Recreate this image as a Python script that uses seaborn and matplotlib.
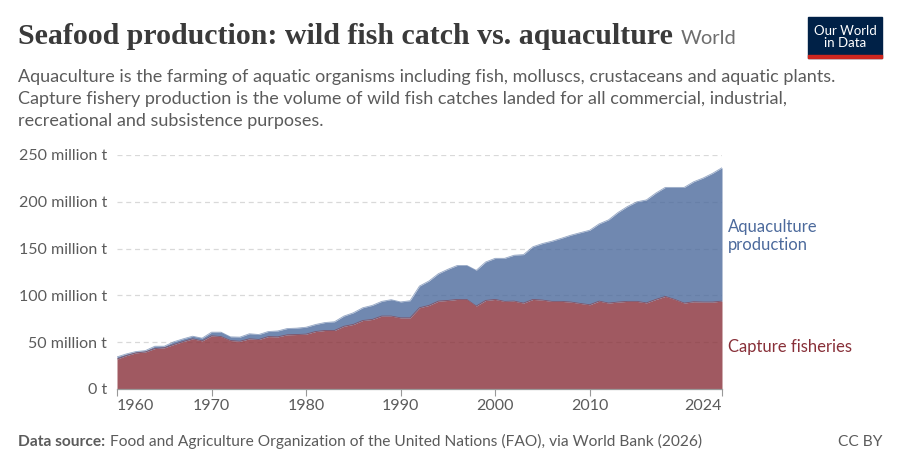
import numpy as np
import pandas as pd
import matplotlib.pyplot as plt
import seaborn as sns
from matplotlib.patches import Rectangle

# 数据：单位 百万吨
years = list(range(1960, 2025))
capture = [32.0, 35.7, 38.6, 39.6, 43.2, 44.0, 47.5, 50.7, 53.6, 51.4,
           56.8, 56.0, 51.8, 51.0, 53.6, 52.9, 56.0, 55.7, 57.9, 58.2,
           58.6, 61.4, 62.5, 62.5, 67.0, 69.0, 73.2, 74.3, 77.9, 77.9,
           76.0, 76.0, 86.8, 89.3, 93.9, 94.6, 95.7, 95.7, 88.6, 94.6,
           95.7, 93.6, 93.9, 91.8, 95.7, 95.0, 93.6, 93.6, 92.9, 91.4,
           90.0, 93.9, 91.8, 92.9, 93.6, 93.6, 92.0, 95.7, 98.9, 95.7,
           91.8, 93.2, 92.9, 92.9, 93.9]
total = [34.3, 37.5, 40.0, 41.0, 45.7, 45.7, 50.4, 53.6, 56.4, 54.3,
         60.7, 60.7, 55.7, 55.4, 59.0, 58.2, 61.4, 62.0, 64.6, 65.0,
         66.0, 68.9, 71.0, 71.8, 77.9, 81.4, 86.8, 89.3, 93.6, 95.4,
         93.0, 94.3, 110.0, 115.4, 123.2, 127.9, 132.0, 132.0, 126.8, 135.7,
         139.6, 139.6, 142.9, 143.6, 152.0, 155.4, 157.9, 161.0, 164.3, 167.0,
         169.6, 176.4, 180.7, 188.6, 195.0, 200.0, 202.0, 209.3, 215.4, 215.4,
         215.4, 221.4, 225.4, 230.4, 236.4]
aquaculture = [t - c for t, c in zip(total, capture)]

y_ticks = [0, 50, 100, 150, 200, 250]
y_labels = ['0 t', '50 million t', '100 million t', '150 million t',
            '200 million t', '250 million t']
x_ticks = [1960, 1970, 1980, 1990, 2000, 2010, 2024]

df = pd.DataFrame({'year': years, 'capture': capture,
                   'aquaculture': aquaculture, 'total': total})

sns.set_theme(style='white')
plt.rcParams['font.family'] = ['Lato', 'DejaVu Sans']

blue = '#4C6A9C'
red = '#883039'
grey = '#5b5b5b'

fig = plt.figure(figsize=(9, 4.7), dpi=100)
ax = fig.add_axes([117/900, 1-389/470, (722-117)/900, (389-155)/470])

# 网格线
for v in y_ticks[1:]:
    ax.axhline(v, color='#d9d9d9', lw=0.9, ls=(0, (4, 3)), zorder=0)

ax.fill_between(df['year'], 0, df['capture'], color=red, alpha=0.8, lw=0, zorder=2)
ax.fill_between(df['year'], df['capture'], df['total'], color=blue, alpha=0.8, lw=0, zorder=2)
sns.lineplot(data=df, x='year', y='total', ax=ax, color=blue, lw=0.6, alpha=0.6, zorder=3)
sns.lineplot(data=df, x='year', y='capture', ax=ax, color=red, lw=0.6, alpha=0.6, zorder=3)

ax.set_xlim(1960, 2024)
ax.set_ylim(0, 250)
ax.set_xlabel('')
ax.set_ylabel('')
for s in ['top', 'right', 'left']:
    ax.spines[s].set_visible(False)
ax.spines['bottom'].set_color('#999999')
ax.spines['bottom'].set_linewidth(0.9)

ax.set_yticks(y_ticks)
ax.set_yticklabels(y_labels, fontsize=11.5, color=grey)
ax.tick_params(axis='y', length=0, pad=7)

ax.set_xticks(x_ticks)
ax.set_xticklabels([str(x) for x in x_ticks], fontsize=11.5, color=grey)
ax.tick_params(axis='x', length=5, width=0.8, color='#999999', pad=2, direction='out', bottom=True)
xl = ax.get_xticklabels()
xl[0].set_horizontalalignment('left')
xl[-1].set_horizontalalignment('right')

# 右侧标签
fig.text(728/900, 1-232/470, 'Aquaculture', color=blue, fontsize=12, va='baseline')
fig.text(728/900, 1-250/470, 'production', color=blue, fontsize=12, va='baseline')
fig.text(728/900, 1-352/470, 'Capture fisheries', color=red, fontsize=12, va='baseline')

# 标题
t = fig.text(18/900, 1-44/470, 'Seafood production: wild fish catch vs. aquaculture',
             fontsize=21.5, fontweight='bold', color='#3a3a3a', family='Liberation Serif',
             va='baseline')
fig.canvas.draw()
bb = t.get_window_extent()
fig.text((bb.x1 + 8)/900, 1-44/470, 'World', fontsize=14.5, color='#6e6e6e', va='baseline')

subtitle = ['Aquaculture is the farming of aquatic organisms including fish, molluscs, crustaceans and aquatic plants.',
            'Capture fishery production is the volume of wild fish catches landed for all commercial, industrial,',
            'recreational and subsistence purposes.']
for i, line in enumerate(subtitle):
    fig.text(18/900, 1-(82 + 22*i)/470, line, fontsize=13, color='#5b5b5b', va='baseline')

# 页脚
ds = fig.text(18/900, 1-446/470, 'Data source:', fontsize=11.2, color='#5b5b5b',
              fontweight='bold', va='baseline')
fig.canvas.draw()
dbb = ds.get_window_extent()
fig.text((dbb.x1 + 5)/900, 1-446/470,
         'Food and Agriculture Organization of the United Nations (FAO), via World Bank (2026)',
         fontsize=11.2, color='#5b5b5b', va='baseline')
fig.text(882/900, 1-446/470, 'CC BY', fontsize=11.2, color='#5b5b5b', va='baseline', ha='right')

# logo
fig.patches.append(Rectangle((808/900, 1-58/470), 74/900, 41/470, transform=fig.transFigure,
                             color='#002147', zorder=5))
fig.patches.append(Rectangle((808/900, 1-58/470), 74/900, 3/470, transform=fig.transFigure,
                             color='#ce261e', zorder=6))
fig.text(845/900, 1-37/470, 'Our World\nin Data', color='white', fontsize=9.5, ha='center',
         va='center', linespacing=1.0, zorder=7)

fig.savefig('out.png', dpi=100)
